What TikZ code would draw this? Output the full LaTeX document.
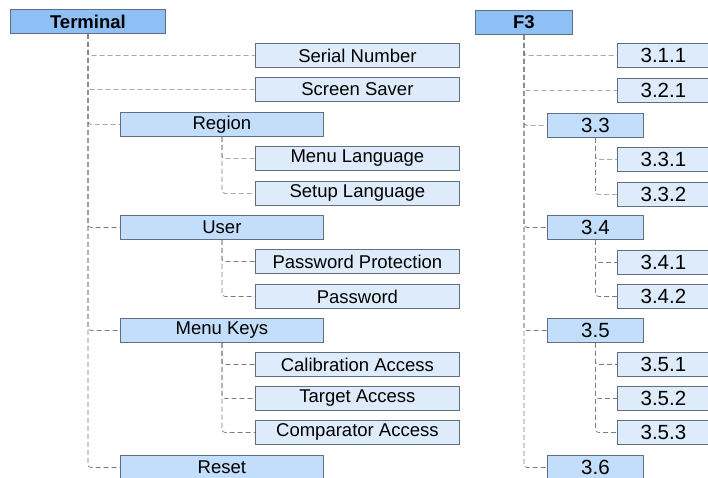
\documentclass[tikz,border=0pt]{standalone}
\usepackage{fontspec}
\setmainfont{Liberation Sans}
\usepackage{tikz}
\usetikzlibrary{positioning,calc}
\definecolor{topblue}{RGB}{142,192,246}
\definecolor{midblue}{RGB}{194,222,251}
\definecolor{leafblue}{RGB}{221,235,251}
\definecolor{boxline}{RGB}{95,110,128}
\definecolor{linkgray}{RGB}{125,125,125}
\tikzset{
  box/.style={draw=boxline,line width=0.8pt,anchor=north west,inner sep=0pt,
    minimum height=24pt,font=\fontsize{18.5}{20}\selectfont},
  topbox/.style={box,fill=topblue,font=\fontsize{18.5}{20}\selectfont\bfseries},
  midbox/.style={box,fill=midblue},
  leafbox/.style={box,fill=leafblue},
  numfont/.style={font=\fontsize{20.5}{22}\selectfont},
  link/.style={draw=linkgray,line width=0.7pt,dash pattern=on 5pt off 3pt,rounded corners=3pt}
}
\begin{document}
\begin{tikzpicture}[x=1pt,y=-1pt]
  \useasboundingbox (0,0) rectangle (708,478);
  % left tree
  \node[topbox,minimum width=155pt] (terminal) at (10,9) {Terminal};
  \node[leafbox,minimum width=204pt] (serial) at (255,43) {Serial Number};
  \node[leafbox,minimum width=204pt] (saver) at (255,77) {Screen Saver};
  \node[midbox,minimum width=203pt] (region) at (120,112) {Region};
  \node[leafbox,minimum width=204pt] (menulang) at (255,146) {Menu Language};
  \node[leafbox,minimum width=204pt] (setuplang) at (255,181) {Setup Language};
  \node[midbox,minimum width=203pt] (user) at (120,215) {User};
  \node[leafbox,minimum width=204pt] (pwprot) at (255,249) {Password Protection};
  \node[leafbox,minimum width=204pt] (pw) at (255,284) {Password};
  \node[midbox,minimum width=203pt] (menukeys) at (120,318) {Menu Keys};
  \node[leafbox,minimum width=204pt] (calib) at (255,352) {Calibration Access};
  \node[leafbox,minimum width=204pt] (target) at (255,386) {Target Access};
  \node[leafbox,minimum width=204pt] (compar) at (255,420) {Comparator Access};
  \node[midbox,minimum width=203pt] (reset) at (120,455) {Reset};
  \foreach \c in {serial,saver,region,user,menukeys,reset}{\draw[link] (terminal.south) |- (\c.west);}
  \foreach \c in {menulang,setuplang}{\draw[link] (region.south) |- (\c.west);}
  \foreach \c in {pwprot,pw}{\draw[link] (user.south) |- (\c.west);}
  \foreach \c in {calib,target,compar}{\draw[link] (menukeys.south) |- (\c.west);}
  % right tree
  \node[topbox,minimum width=97pt] (f3) at (475,10) {F3};
  \node[leafbox,numfont,minimum width=92pt] (r311) at (617,43) {3.1.1};
  \node[leafbox,numfont,minimum width=92pt] (r321) at (617,78) {3.2.1};
  \node[midbox,numfont,minimum width=96pt] (r33) at (547,113) {3.3};
  \node[leafbox,numfont,minimum width=92pt] (r331) at (617,147) {3.3.1};
  \node[leafbox,numfont,minimum width=92pt] (r332) at (617,182) {3.3.2};
  \node[midbox,numfont,minimum width=96pt] (r34) at (547,215) {3.4};
  \node[leafbox,numfont,minimum width=92pt] (r341) at (617,250) {3.4.1};
  \node[leafbox,numfont,minimum width=92pt] (r342) at (617,284) {3.4.2};
  \node[midbox,numfont,minimum width=96pt] (r35) at (547,318) {3.5};
  \node[leafbox,numfont,minimum width=92pt] (r351) at (617,352) {3.5.1};
  \node[leafbox,numfont,minimum width=92pt] (r352) at (617,386) {3.5.2};
  \node[leafbox,numfont,minimum width=92pt] (r353) at (617,420) {3.5.3};
  \node[midbox,numfont,minimum width=96pt] (r36) at (547,455) {3.6};
  \foreach \c in {r311,r321,r33,r34,r35,r36}{\draw[link] (f3.south) |- (\c.west);}
  \foreach \c in {r331,r332}{\draw[link] (r33.south) |- (\c.west);}
  \foreach \c in {r341,r342}{\draw[link] (r34.south) |- (\c.west);}
  \foreach \c in {r351,r352,r353}{\draw[link] (r35.south) |- (\c.west);}
\end{tikzpicture}
\end{document}
